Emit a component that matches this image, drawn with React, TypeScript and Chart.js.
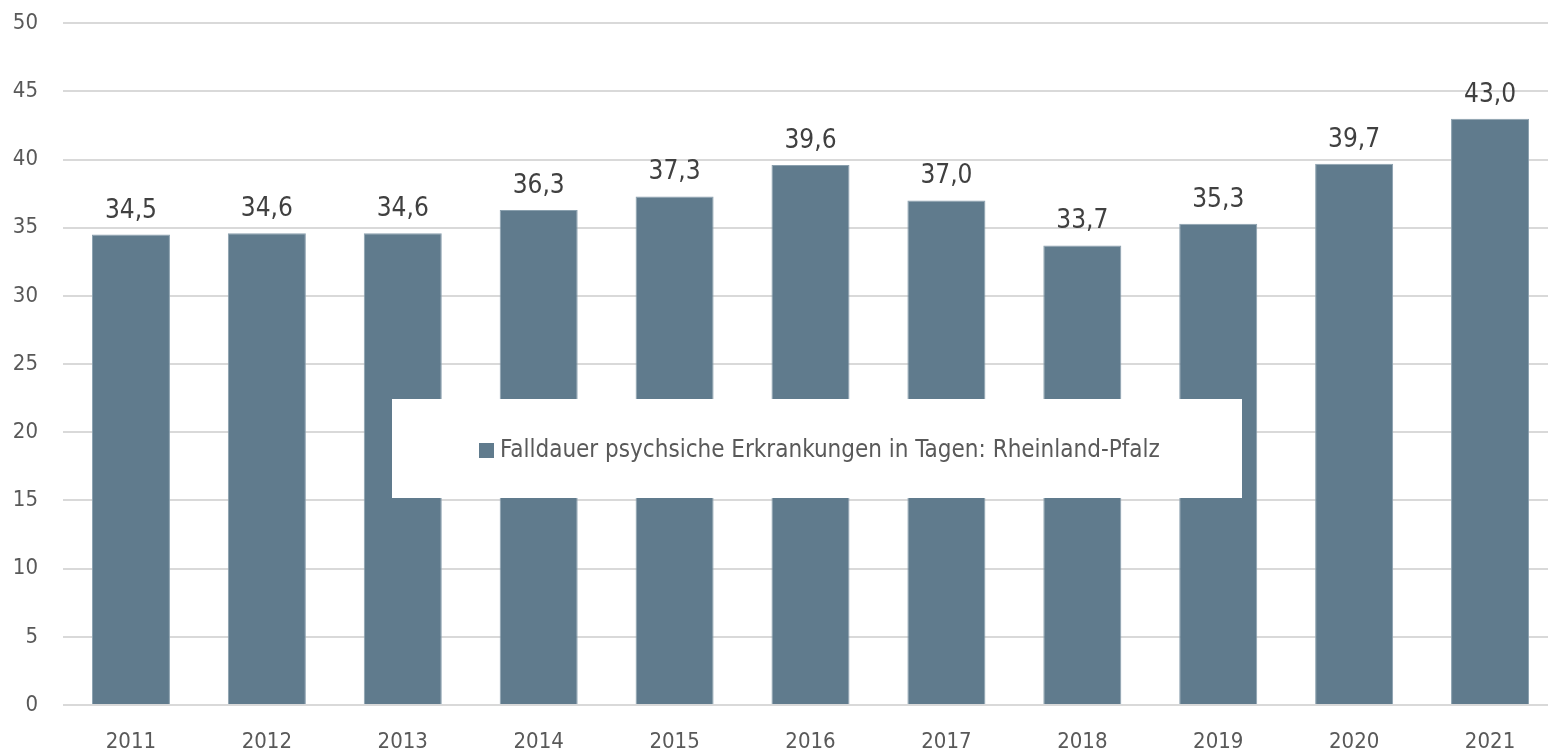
import React, { useEffect, useRef } from "react";
import { Chart, registerables } from "chart.js";

Chart.register(...registerables);

const years = ["2011", "2012", "2013", "2014", "2015", "2016", "2017", "2018", "2019", "2020", "2021"];
const values = [34.5, 34.6, 34.6, 36.3, 37.3, 39.6, 37.0, 33.7, 35.3, 39.7, 43.0];
const seriesName = "Falldauer psychsiche Erkrankungen in Tagen: Rheinland-Pfalz";

const FONT = "'Liberation Sans Narrow', 'Arial Narrow', 'DejaVu Sans Condensed', sans-serif";
const BAR = "#607b8d";
const SHIFT = 15;

const labelPlugin = {
  id: "valueLabels",
  afterDatasetsDraw(chart: any) {
    const ctx = chart.ctx;
    const meta = chart.getDatasetMeta(0);
    ctx.save();
    ctx.font = `26px ${FONT}`;
    ctx.fillStyle = "#404040";
    ctx.textAlign = "center";
    ctx.textBaseline = "alphabetic";
    meta.data.forEach((bar: any, i: number) => {
      const txt = values[i].toFixed(1).replace(".", ",");
      ctx.fillText(txt, bar.x, bar.y - 17);
    });
    ctx.restore();
  },
};

const legendBoxPlugin = {
  id: "legendBox",
  afterDraw(chart: any) {
    const ctx = chart.ctx;
    ctx.save();
    ctx.fillStyle = "#ffffff";
    ctx.fillRect(392, 399 + SHIFT, 850, 99);
    ctx.fillStyle = BAR;
    ctx.fillRect(479, 443 + SHIFT, 15, 15);
    ctx.font = `24px ${FONT}`;
    ctx.fillStyle = "#595959";
    ctx.textAlign = "left";
    ctx.textBaseline = "middle";
    ctx.fillText(seriesName, 500, 451 + SHIFT);
    ctx.restore();
  },
};

export default function App() {
  const ref = useRef<HTMLCanvasElement>(null);
  useEffect(() => {
    if (!ref.current) return;
    const chart = new Chart(ref.current, {
      type: "bar",
      data: {
        labels: years,
        datasets: [
          {
            label: seriesName,
            data: values,
            backgroundColor: BAR,
            borderColor: "#8aa0ae",
            borderWidth: 1,
            barPercentage: 1,
            categoryPercentage: 0.574,
          },
        ],
      },
      options: {
        responsive: false,
        animation: false,
        layout: { padding: { top: 6, right: 2, left: 0, bottom: 0 } },
        plugins: { legend: { display: false }, tooltip: { enabled: false } },
        scales: {
          x: {
            grid: { display: false, drawTicks: false },
            border: { display: false },
            ticks: { color: "#595959", font: { family: FONT, size: 22 }, padding: 24 },
            afterFit(scale: any) {
              scale.height = 44;
            },
          },
          y: {
            min: 0,
            max: 50,
            ticks: { stepSize: 5, color: "#595959", font: { family: FONT, size: 22 }, padding: 25 },
            grid: { color: "#d9d9d9", lineWidth: 2, drawTicks: false },
            border: { display: false },
            afterFit(scale: any) {
              scale.width = 63;
            },
          },
        },
      },
      plugins: [labelPlugin, legendBoxPlugin],
    });
    return () => chart.destroy();
  }, []);
  return (
    <div style={{ position: "fixed", left: 0, top: -SHIFT, width: 1560, height: 749 + SHIFT, background: "#fff" }}>
      <canvas ref={ref} width={1560} height={749 + SHIFT} style={{ display: "block" }} />
    </div>
  );
}
